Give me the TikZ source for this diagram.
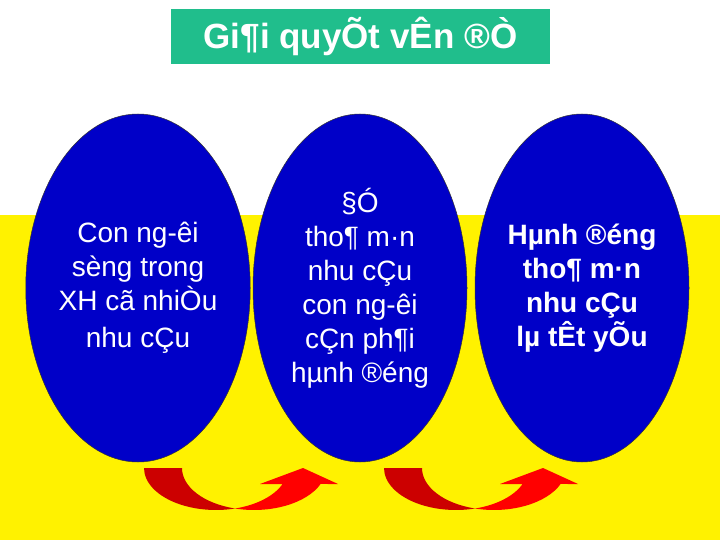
\documentclass[tikz,border=0pt]{standalone}
\usepackage{fontspec}
\setmainfont{Liberation Sans}
\usepackage{tikz}
\usetikzlibrary{shapes.geometric}
\usepackage{color}

\definecolor{titlegreen}{RGB}{32,190,140}
\definecolor{ovalblue}{RGB}{0,0,200}
\definecolor{backred}{RGB}{204,0,0}
\definecolor{frontred}{RGB}{255,0,0}

\tikzset{
  oval/.style={ellipse, draw=black!80, line width=0.5pt, fill=ovalblue,
    minimum width=214, minimum height=348, inner sep=0pt, text=white,
    align=center, font=\fontsize{28}{34}\selectfont},
  titlebox/.style={fill=titlegreen, text=white, minimum width=379,
    minimum height=55, inner sep=0pt, font=\fontsize{35}{42}\selectfont\bfseries},
  pics/bendarrow/.style={code={
    % back part of the band
    \fill[backred] (-72,0) arc[start angle=180, end angle=74.7, x radius=72, y radius=42]
      arc[start angle=105.3, end angle=180, x radius=72, y radius=42] -- cycle;
    % front part with head
    \fill[frontred] (19,40.5) arc[start angle=105.3, end angle=22.4, x radius=72, y radius=42]
      -- (122,16) -- (87,0) -- (44,16) -- (66.6,16)
      arc[start angle=22.4, end angle=74.7, x radius=72, y radius=42] -- cycle;
  }}
}

\begin{document}
\begin{tikzpicture}[x=1pt,y=1pt,yscale=-1,xscale=1]
\useasboundingbox (0,0) rectangle (720,540);

%Shape: Rectangle (background)
\fill[white] (0,0) rectangle (720,215);
\fill[yellow] (0,215) rectangle (720,540);

% Title
\node[titlebox] (title) at (360.5,36.5) {Gi¶i quyÕt vÊn ®Ò};

%Shape: Ellipse
\node[oval] (need) at (138,288) {Con ng-êi\\sèng trong\\XH cã nhiÒu\\[3pt]nhu cÇu};
%Shape: Ellipse
\node[oval] (motive) at (360,288) {§Ó\\tho¶ m·n\\nhu cÇu\\con ng-êi\\cÇn ph¶i\\hµnh ®éng};
%Shape: Ellipse
\node[oval, font=\fontsize{28}{34}\selectfont\bfseries] (action) at (582,288) {Hµnh ®éng\\tho¶ m·n\\nhu cÇu\\lµ tÊt yÕu};

%Shape: Curved Up Arrow
\pic[transform shape] at (216,468) {bendarrow};
%Shape: Curved Up Arrow
\pic[transform shape] at (456,468) {bendarrow};

\end{tikzpicture}
\end{document}
